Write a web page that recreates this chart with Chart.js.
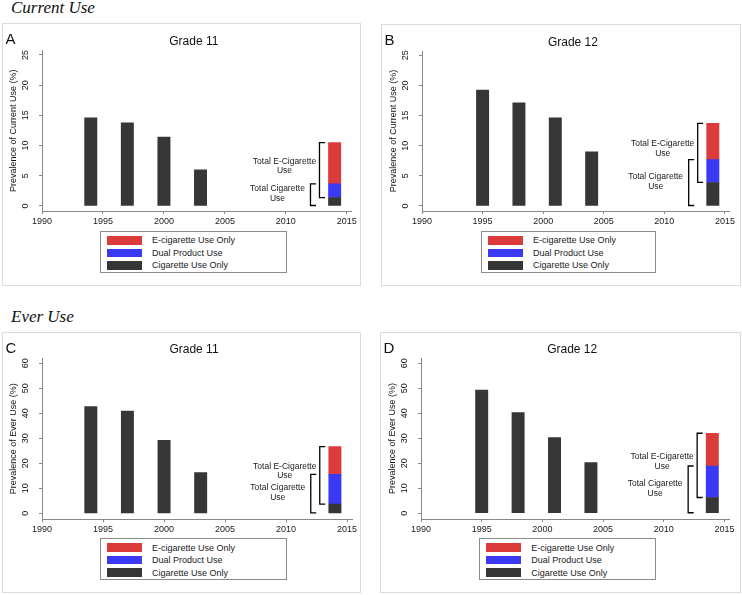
<!DOCTYPE html>
<html lang="en">
<head>
<meta charset="UTF-8">
<title>Current Use and Ever Use by Grade</title>
<script src="https://cdn.jsdelivr.net/npm/chart.js"></script>
<style>
    body {
        margin: 0;
        width: 742px;
        height: 595px;
        position: relative;
        overflow: hidden;
        background: #fff;
        font-family: 'Liberation Sans', Arial, sans-serif;
    }
    .section {
        position: absolute;
        left: 11px;
        font-family: 'Liberation Serif', 'Times New Roman', serif;
        font-style: italic;
        font-size: 17px;
        line-height: 1;
        color: #111;
    }
    .panel { position: absolute; }
    .panel canvas { position: absolute; left: 0; top: 0; }
    .legend {
        position: absolute;
        box-sizing: border-box;
        height: 42px;
        border: 1px solid #8c8c8c;
        background: #fff;
        padding-top: 2px;
    }
    .legend-row {
        display: flex;
        align-items: center;
        height: 12.5px;
        font-size: 9px;
        color: #1a1a1a;
        white-space: nowrap;
    }
    .legend-swatch {
        width: 35px;
        height: 8.5px;
        margin-left: 6px;
        margin-right: 10px;
    }
</style>
</head>
<body>
<div class="section" style="top:-1px;">Current Use</div>
<div class="section" style="top:307.5px;">Ever Use</div>

<div class="panel" id="panelA" style="left:2px; top:23px; width:359px; height:263px;"><canvas id="chartA" width="359" height="263"></canvas></div>
<div class="panel" id="panelB" style="left:381px; top:24px; width:360px; height:262px;"><canvas id="chartB" width="360" height="262"></canvas></div>
<div class="panel" id="panelC" style="left:2px; top:332px; width:359px; height:261px;"><canvas id="chartC" width="359" height="261"></canvas></div>
<div class="panel" id="panelD" style="left:380px; top:332px; width:361px; height:261px;"><canvas id="chartD" width="361" height="261"></canvas></div>

<script>
    // Axis ticks
    const xTicks = [1990, 1995, 2000, 2005, 2010, 2015];
    const currentTicks = [0, 5, 10, 15, 20, 25];
    const everTicks = [0, 10, 20, 30, 40, 50, 60];

    // Survey years (last one is the 2014 e-cigarette survey)
    const grade11Years = [1994, 1997, 2000, 2003, 2014];
    const grade12Years = [1995, 1998, 2001, 2004, 2014];

    // Current use (%)
    const currentG11Cig = [14.6, 13.75, 11.4, 6.0, 1.4];
    const currentG11Dual = 2.25;
    const currentG11Ecig = 6.85;
    const currentG12Cig = [19.2, 17.1, 14.6, 9.0, 3.9];
    const currentG12Dual = 3.8;
    const currentG12Ecig = 6.0;

    // Ever use (%)
    const everG11Cig = [42.7, 40.9, 29.2, 16.3, 3.7];
    const everG11Dual = 11.9;
    const everG11Ecig = 11.1;
    const everG12Cig = [49.3, 40.3, 30.3, 20.3, 6.3];
    const everG12Dual = 12.6;
    const everG12Ecig = 13.1;

    const seriesLabels = ['Cigarette Use Only', 'Dual Product Use', 'E-cigarette Use Only'];
    const seriesColors = ['#363636', '#3a3af4', '#dc3b3b'];

    const FONT = "'Liberation Sans', Arial, sans-serif";

    // Draws the frame, panel letter, title, rotated y labels and the brackets
    const panelDeco = {
        id: 'panelDeco',
        beforeDraw(chart) {
            const {ctx, width, height} = chart;
            ctx.save();
            ctx.fillStyle = '#fff';
            ctx.fillRect(0, 0, width, height);
            ctx.strokeStyle = '#dcdcdc';
            ctx.lineWidth = 1;
            ctx.strokeRect(0.5, 0.5, width - 1, height - 1);
            ctx.restore();
        },
        afterDraw(chart, args, opts) {
            const {ctx, chartArea: ca} = chart;
            const y = chart.scales.y;
            ctx.save();
            ctx.fillStyle = '#111';

            ctx.font = '15px ' + FONT;
            ctx.textAlign = 'left';
            ctx.textBaseline = 'alphabetic';
            ctx.fillText(opts.letter, 3.5, 20.5);

            ctx.font = '12px ' + FONT;
            ctx.textAlign = 'center';
            ctx.textBaseline = 'middle';
            ctx.fillText(opts.title, (ca.left + ca.right) / 2 - 3, ca.top - 8.7);

            // y tick labels, rotated like the original
            ctx.font = '9px ' + FONT;
            y.ticks.forEach(t => {
                ctx.save();
                ctx.translate(ca.left - 16.5, y.getPixelForValue(t.value));
                ctx.rotate(-Math.PI / 2);
                ctx.fillText(String(t.value), 0, 0);
                ctx.restore();
            });
            ctx.save();
            ctx.translate(ca.left - 28.7, (ca.top + ca.bottom) / 2);
            ctx.rotate(-Math.PI / 2);
            ctx.fillText(opts.yTitle, 0, 0);
            ctx.restore();

            // brackets next to the 2014 stacked bar
            const cigMeta = chart.getDatasetMeta(0);
            const cigBar = cigMeta.data[cigMeta.data.length - 1];
            const dualBar = chart.getDatasetMeta(1).data[0];
            const ecigBar = chart.getDatasetMeta(2).data[0];
            const bl = cigBar.x - cigBar.width / 2;
            const yBase = cigBar.base;
            const yCig = cigBar.y;
            const yDual = dualBar.y;
            const yTop = ecigBar.y;

            ctx.strokeStyle = '#000';
            ctx.lineWidth = 1.3;
            const bracket = (x, x2, yA, yB) => {
                ctx.beginPath();
                ctx.moveTo(x2, yA);
                ctx.lineTo(x, yA);
                ctx.lineTo(x, yB);
                ctx.lineTo(x2, yB);
                ctx.stroke();
            };
            bracket(bl - 9, bl - 3.5, yTop, yCig);
            bracket(bl - 18, bl - 12.5, yDual, yBase);

            ctx.font = '8.5px ' + FONT;
            ctx.fillStyle = '#1a1a1a';
            const eMid = (yTop + yCig) / 2 - 4;
            ctx.fillText('Total E-Cigarette', bl - 44, eMid - 4.85);
            ctx.fillText('Use', bl - 44, eMid + 4.85);
            const cMid = (yDual + yBase) / 2 - 1;
            ctx.fillText('Total Cigarette', bl - 51, cMid - 4.85);
            ctx.fillText('Use', bl - 51, cMid + 4.85);
            ctx.restore();
        }
    };

    function buildLegend(panelId, chart, pos) {
        const box = document.createElement('div');
        box.className = 'legend';
        box.style.left = pos.left + 'px';
        box.style.top = pos.top + 'px';
        box.style.width = pos.width + 'px';
        chart.data.datasets.slice().reverse().forEach(ds => {
            const row = document.createElement('div');
            row.className = 'legend-row';
            const sw = document.createElement('span');
            sw.className = 'legend-swatch';
            sw.style.background = ds.backgroundColor;
            row.appendChild(sw);
            row.appendChild(document.createTextNode(ds.label));
            box.appendChild(row);
        });
        document.getElementById(panelId).appendChild(box);
    }

    function createPanel(p) {
        const last = p.years[p.years.length - 1];
        const chart = new Chart(document.getElementById(p.canvas), {
            type: 'bar',
            data: {
                datasets: [
                    {
                        label: seriesLabels[0],
                        data: p.years.map((yr, i) => ({x: yr, y: p.cig[i]})),
                        backgroundColor: seriesColors[0]
                    },
                    {
                        label: seriesLabels[1],
                        data: [{x: last, y: p.dual}],
                        backgroundColor: seriesColors[1]
                    },
                    {
                        label: seriesLabels[2],
                        data: [{x: last, y: p.ecig}],
                        backgroundColor: seriesColors[2]
                    }
                ]
            },
            options: {
                responsive: false,
                animation: false,
                layout: {padding: {top: p.pad.top, right: p.pad.right, left: 0, bottom: 0}},
                datasets: {bar: {barThickness: 12.3, borderWidth: 0}},
                plugins: {
                    legend: {display: false},
                    tooltip: {enabled: false},
                    panelDeco: {letter: p.letter, title: p.title, yTitle: p.yTitle}
                },
                scales: {
                    x: {
                        type: 'linear',
                        stacked: true,
                        offset: false,
                        min: 1990,
                        max: 2015.4,
                        afterBuildTicks: s => { s.ticks = xTicks.map(v => ({value: v})); },
                        afterFit: s => { s.height = p.xAxisH; },
                        grid: {drawOnChartArea: false, drawTicks: true, tickLength: 3, color: '#888', offset: false},
                        border: {display: true, color: '#888', width: 1},
                        ticks: {
                            color: '#1a1a1a',
                            font: {family: FONT, size: 9},
                            padding: 2,
                            maxRotation: 0,
                            autoSkip: false,
                            callback: v => String(v)
                        }
                    },
                    y: {
                        stacked: true,
                        min: p.yMin,
                        max: p.yMax,
                        afterBuildTicks: s => { s.ticks = p.yTicks.map(v => ({value: v})); },
                        afterFit: s => { s.width = p.yAxisW; },
                        grid: {drawOnChartArea: false, drawTicks: true, tickLength: 3, color: '#888'},
                        border: {display: true, color: '#888', width: 1},
                        ticks: {display: false}
                    }
                }
            },
            plugins: [panelDeco]
        });
        buildLegend(p.panel, chart, p.legend);
    }

    createPanel({
        panel: 'panelA', canvas: 'chartA', letter: 'A', title: 'Grade 11',
        yTitle: 'Prevalence of Current Use (%)',
        years: grade11Years, cig: currentG11Cig, dual: currentG11Dual, ecig: currentG11Ecig,
        yTicks: currentTicks, yMin: -0.83, yMax: 25.7,
        pad: {top: 27.7, right: 9.3}, yAxisW: 40, xAxisH: 75,
        legend: {left: 98, top: 208, width: 187}
    });
    createPanel({
        panel: 'panelB', canvas: 'chartB', letter: 'B', title: 'Grade 12',
        yTitle: 'Prevalence of Current Use (%)',
        years: grade12Years, cig: currentG12Cig, dual: currentG12Dual, ecig: currentG12Ecig,
        yTicks: currentTicks, yMin: -0.83, yMax: 25.7,
        pad: {top: 27, right: 11.2}, yAxisW: 41, xAxisH: 75,
        legend: {left: 100, top: 207, width: 175}
    });
    createPanel({
        panel: 'panelC', canvas: 'chartC', letter: 'C', title: 'Grade 11',
        yTitle: 'Prevalence of Ever Use (%)',
        years: grade11Years, cig: everG11Cig, dual: everG11Dual, ecig: everG11Ecig,
        yTicks: everTicks, yMin: -2.4, yMax: 62,
        pad: {top: 26.3, right: 9}, yAxisW: 40, xAxisH: 73.7,
        legend: {left: 98, top: 206.3, width: 187}
    });
    createPanel({
        panel: 'panelD', canvas: 'chartD', letter: 'D', title: 'Grade 12',
        yTitle: 'Prevalence of Ever Use (%)',
        years: grade12Years, cig: everG12Cig, dual: everG12Dual, ecig: everG12Ecig,
        yTicks: everTicks, yMin: -2.3, yMax: 62.1,
        pad: {top: 26, right: 11.7}, yAxisW: 41, xAxisH: 74,
        legend: {left: 99.3, top: 206.3, width: 177}
    });
</script>
</body>
</html>
